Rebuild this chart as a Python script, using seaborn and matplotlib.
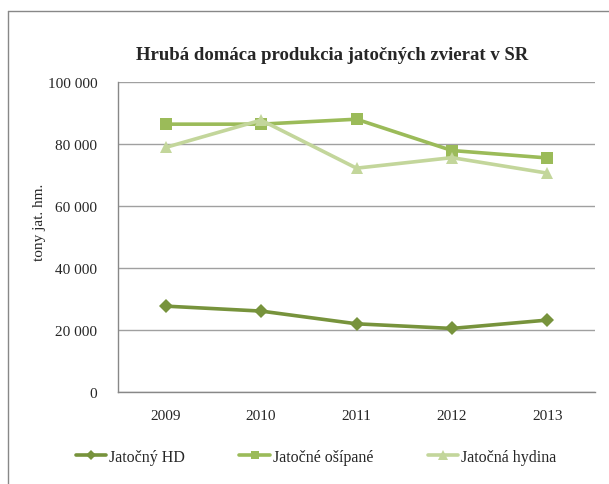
import pandas as pd
import matplotlib.pyplot as plt
import seaborn as sns
from matplotlib.lines import Line2D
from matplotlib.ticker import FuncFormatter, FixedLocator

years = ["2009", "2010", "2011", "2012", "2013"]
hd = [27700, 26100, 22000, 20500, 23200]
osipane = [86400, 86400, 88000, 77900, 75500]
hydina = [78900, 87700, 72200, 75600, 70600]

names = ["Jatočný HD", "Jatočné ošípané", "Jatočná hydina"]
colors = {"Jatočný HD": "#77933C", "Jatočné ošípané": "#9BBB59", "Jatočná hydina": "#C3D69B"}
markers = {"Jatočný HD": "D", "Jatočné ošípané": "s", "Jatočná hydina": "^"}
msizes = {"Jatočný HD": 7, "Jatočné ošípané": 8.5, "Jatočná hydina": 9}

rows = []
for name, vals in zip(names, [hd, osipane, hydina]):
    for i, v in enumerate(vals):
        rows.append({"pos": i, "rok": years[i], "séria": name, "hodnota": v})
df = pd.DataFrame(rows)

sns.set_style("white")
plt.rcParams["font.family"] = ["Liberation Serif", "DejaVu Serif"]

fig = plt.figure(figsize=(6.09, 4.85), dpi=100)
ax = fig.add_axes([118 / 609, 1 - 393 / 485, (595 - 118) / 609, (393 - 83) / 485])

for name in names:
    sns.lineplot(data=df[df["séria"] == name], x="pos", y="hodnota", ax=ax,
                 color=colors[name], marker=markers[name], markersize=msizes[name],
                 markeredgewidth=0, linewidth=2.6, label=name, legend=False)

ax.set_xlim(-0.5, 4.5)
ax.set_ylim(0, 100000)
ax.yaxis.set_major_locator(FixedLocator(range(0, 100001, 20000)))
ax.yaxis.set_major_formatter(FuncFormatter(lambda v, p: f"{int(v):,}".replace(",", " ")))
ax.set_xticks(range(5))
ax.set_xticklabels(years)
ax.set_xticks([x - 0.5 for x in range(6)], minor=True)
ax.tick_params(axis="x", which="major", length=0, pad=12, labelsize=11)
ax.tick_params(axis="x", which="minor", length=5, color="#888888", width=1, direction="out")
ax.tick_params(axis="y", length=5, color="#888888", width=1, direction="out", pad=10, labelsize=11)
ax.grid(axis="y", color="#A0A0A0", linewidth=1)
ax.set_axisbelow(True)
ax.set_xlabel("")
ax.set_ylabel("")
for s in ["top", "right"]:
    ax.spines[s].set_visible(False)
for s in ["left", "bottom"]:
    ax.spines[s].set_color("#888888")
    ax.spines[s].set_linewidth(1)

fig.text(332 / 609, 1 - 55 / 485, "Hrubá domáca produkcia jatočných zvierat v SR",
         ha="center", va="center", fontsize=13.5, fontweight="bold")
fig.text(39 / 609, 1 - 222 / 485, "tony jat. hm.", rotation=90,
         ha="center", va="center", fontsize=11)

handles = [Line2D([], [], color=colors[n], marker=markers[n], markersize=msizes[n] * 0.75,
                  markeredgewidth=0, linewidth=2.6) for n in names]
fig.legend(handles, names, loc="center", bbox_to_anchor=(316 / 609, 1 - 458 / 485),
           ncol=3, frameon=False, fontsize=11.5, handlelength=1.9, handletextpad=0.2,
           columnspacing=3.4)

# chart frame
fig.add_artist(Line2D([8 / 609, 1.0], [1 - 12 / 485] * 2, transform=fig.transFigure,
                      color="#888888", linewidth=1))
fig.add_artist(Line2D([8 / 609] * 2, [0, 1 - 12 / 485], transform=fig.transFigure,
                      color="#888888", linewidth=1))

fig.savefig("out.png", dpi=100)
